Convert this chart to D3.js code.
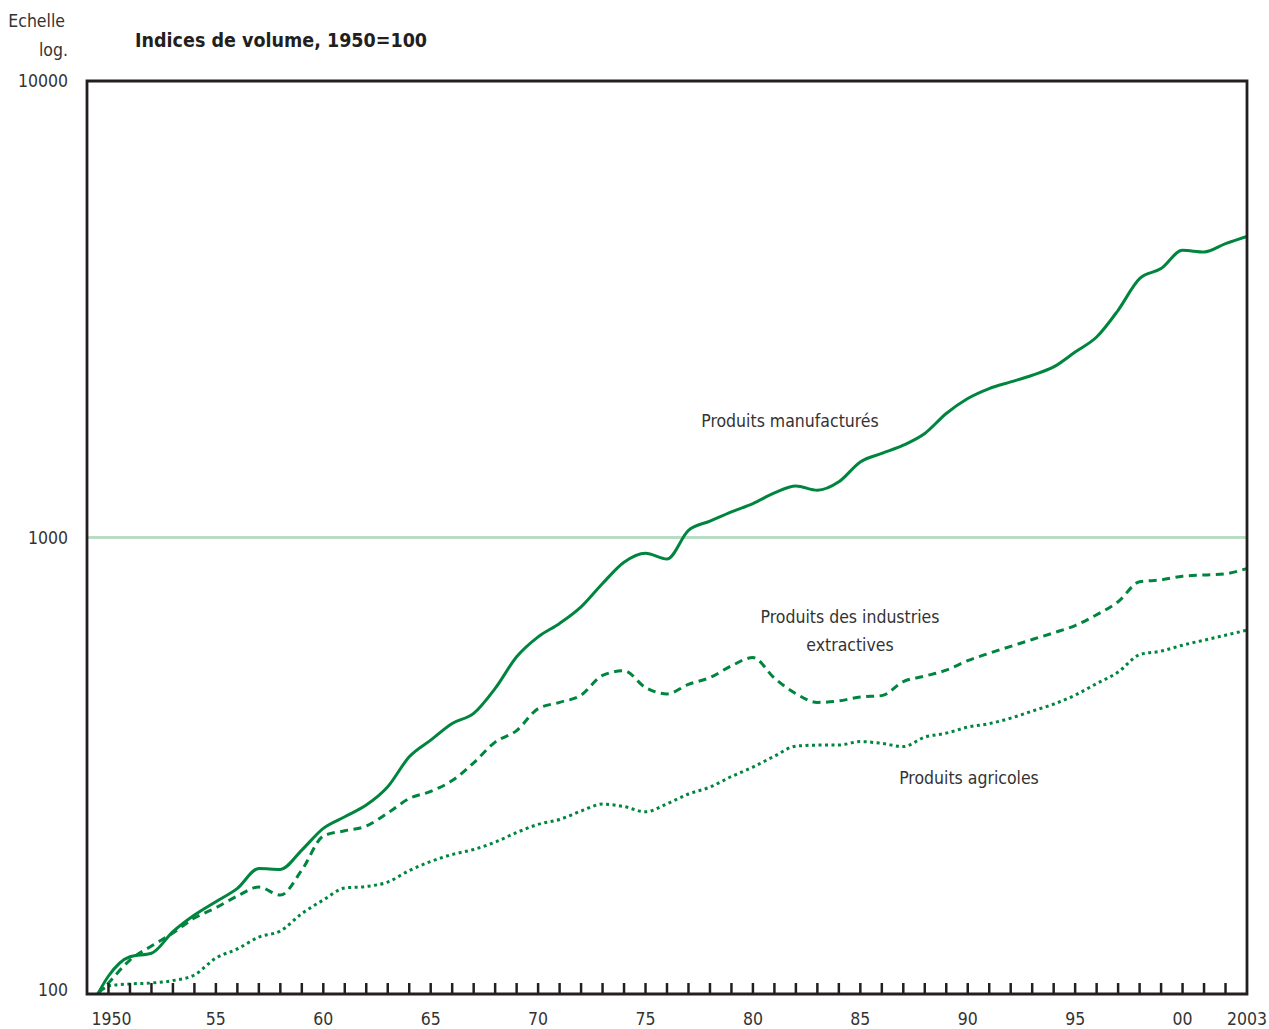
<!DOCTYPE html>
<html><head><meta charset="utf-8">
<script src="https://cdn.jsdelivr.net/npm/d3@7"></script>
<style>
html,body{margin:0;padding:0;background:#fff;}
svg text{font-family:"Liberation Sans Narrow","DejaVu Sans Condensed","Open Sans",sans-serif;fill:#333;}
</style></head>
<body>
<svg id="chart" width="1269" height="1029"></svg>
<script>
const years = [1949.5,1950,1951,1952,1953,1954,1955,1956,1957,1958,1959,1960,1961,1962,1963,1964,1965,1966,1967,1968,1969,1970,1971,1972,1973,1974,1975,1976,1977,1978,1979,1980,1981,1982,1983,1984,1985,1986,1987,1988,1989,1990,1991,1992,1993,1994,1995,1996,1997,1998,1999,2000,2001,2002,2003];
const manufactures = [100,109.5,120.7,122.8,136.9,148.9,159.3,170.4,188.4,187.5,206.7,230.6,244.5,259.3,284.4,330.8,359.9,391.5,411.8,467,547.9,605.9,648.2,704.7,793,883,924,897,1037,1086,1138,1187,1252,1297,1269,1324,1464,1528,1593,1690,1869,2016,2120,2192,2267,2364,2549,2749,3146,3691,3882,4257,4221,4403,4568];
const extractives = [100,105.7,118.7,127.4,136.0,146.7,154.5,163.9,171.5,164.7,186.8,221.8,227.8,233.3,249.1,268.0,277.9,293.4,321.0,356.3,377.6,421.9,435.3,451.6,498.6,510.5,469.1,454.4,476.7,493.3,523.5,545.6,492.0,455.0,435.3,438.5,447.5,450.4,483.4,497.0,512.3,537.3,557.9,577.4,597.8,618.3,641.5,677.5,723.3,799.8,807.5,822.7,827.7,833.1,855.2];
const agricoles = [100,104.1,105.2,105.7,107.0,110.1,119.9,125.5,133.3,137.4,150.0,160.7,170.7,172.0,175.9,186.4,195.1,202.1,207.3,215.1,225.8,235.3,241.2,251.6,260.6,257.4,250.7,261.0,274.2,284.0,299.5,314.1,331.9,349.1,350.9,350.9,357.2,353.9,348.3,365.4,372.8,384.3,391.1,402.1,416.6,431.5,451.6,478.6,507.2,553.9,563.7,580.9,595.7,611.0,626.6];
const tickYears = d3.range(1950, 2003);
const tickLabels = {1950:"1950",1955:"55",1960:"60",1965:"65",1970:"70",1975:"75",1980:"80",1985:"85",1990:"90",1995:"95",2000:"00",2003:"2003"};
const yTicks = [100, 1000, 10000];
const seriesNames = ["Produits manufacturés","Produits des industries extractives","Produits agricoles"];

const svg = d3.select("#chart");
const L = 87, R = 1247, T = 81, B = 994;
const x = d3.scaleLinear().domain([1949, 2003]).range([L, R]);
const y = d3.scaleLog().domain([100, 10000]).range([B, T]);
const green = "#00853f";
const fs = 17.5;

// grid line at 1000
svg.append("line").attr("x1", L).attr("x2", R).attr("y1", y(1000)).attr("y2", y(1000))
  .attr("stroke", "#b9dcc4").attr("stroke-width", 3);

svg.append("clipPath").attr("id","clip").append("rect")
  .attr("x", L).attr("y", T).attr("width", R - L).attr("height", B - T + 2);

const line = d3.line().x((d,i)=>x(years[i])).y(d=>y(d)).curve(d3.curveMonotoneX);
const g = svg.append("g").attr("clip-path","url(#clip)");
g.append("path").attr("d", line(agricoles)).attr("fill","none").attr("stroke",green)
  .attr("stroke-width",3).attr("stroke-dasharray","3,3.5");
g.append("path").attr("d", line(extractives)).attr("fill","none").attr("stroke",green)
  .attr("stroke-width",3).attr("stroke-dasharray","8,5.5");
g.append("path").attr("d", line(manufactures)).attr("fill","none").attr("stroke",green)
  .attr("stroke-width",3);

// x ticks (inside)
svg.append("g").selectAll("line").data(tickYears).join("line")
  .attr("x1", d=>x(d)).attr("x2", d=>x(d)).attr("y1", B).attr("y2", B - 11)
  .attr("stroke", "#231f20").attr("stroke-width", 2.5);

// frame
svg.append("path")
  .attr("d", `M${L},${B} L${L},${T} L${R},${T} L${R},${B} Z`)
  .attr("fill","none").attr("stroke","#231f20").attr("stroke-width",2.8);

// x labels
svg.append("g").selectAll("text").data(Object.keys(tickLabels).map(Number)).join("text")
  .attr("x", d=> d===1950 ? x(d)+3 : x(d)).attr("y", 1025).attr("text-anchor","middle")
  .attr("font-size", fs).text(d=>tickLabels[d]);

// y labels
svg.append("g").selectAll("text").data(yTicks).join("text")
  .attr("x", 68).attr("y", d=> y(d) + (d===100 ? -4 : 0)).attr("dy","0.35em").attr("text-anchor","end")
  .attr("font-size", fs).text(d=>d3.format("d")(d));

svg.append("text").attr("x", 65).attr("y", 27).attr("text-anchor","end").attr("font-size",fs).text("Echelle");
svg.append("text").attr("x", 68).attr("y", 56).attr("text-anchor","end").attr("font-size",fs).text("log.");
svg.append("text").attr("x", 135).attr("y", 47).attr("font-size",19.5).attr("font-weight","bold")
  .style("fill","#231f20").text("Indices de volume, 1950=100");

// series labels
svg.append("text").attr("x", 790).attr("y", 427).attr("text-anchor","middle").attr("font-size",fs).text(seriesNames[0]);
svg.append("text").attr("x", 850).attr("y", 623).attr("text-anchor","middle").attr("font-size",fs).text("Produits des industries");
svg.append("text").attr("x", 850).attr("y", 651).attr("text-anchor","middle").attr("font-size",fs).text("extractives");
svg.append("text").attr("x", 969).attr("y", 784).attr("text-anchor","middle").attr("font-size",fs).text(seriesNames[2]);
</script>
</body></html>
